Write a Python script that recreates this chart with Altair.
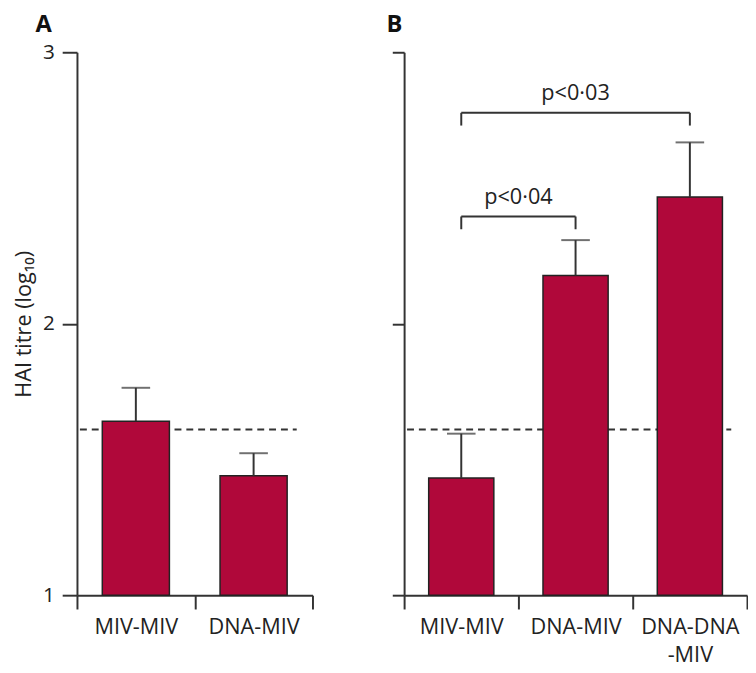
import altair as alt
import pandas as pd

# ---- data ----
a_groups = ["MIV-MIV", "DNA-MIV"]
a_means = [1.641, 1.44]
a_upper = [1.764, 1.523]

b_groups = ["MIV-MIV", "DNA-MIV", "DNA-DNA-MIV"]
b_means = [1.432, 2.178, 2.467]
b_upper = [1.595, 2.308, 2.668]

threshold = [1.61]

cmp_left = ["MIV-MIV", "MIV-MIV"]
cmp_right = ["DNA-MIV", "DNA-DNA-MIV"]
cmp_level = [2.395, 2.777]
cmp_low = [2.348, 2.730]
cmp_text = ["p<0·04", "p<0·03"]

y_ticks = [1, 2, 3]

# ---- styling ----
FONT = "Open Sans"
BAR = "#B0083A"
INK = "#333333"

a_df = pd.DataFrame({"group": a_groups, "mean": a_means, "upper": a_upper})
b_df = pd.DataFrame({"group": b_groups, "mean": b_means, "upper": b_upper})
thr_df = pd.DataFrame({"thr": threshold})
cmp_df = pd.DataFrame({"left": cmp_left, "right": cmp_right, "level": cmp_level,
                       "low": cmp_low, "text": cmp_text})
ends_df = pd.concat([
    pd.DataFrame({"cat": cmp_left, "level": cmp_level, "low": cmp_low}),
    pd.DataFrame({"cat": cmp_right, "level": cmp_level, "low": cmp_low}),
])


def panel(df, groups, width, height, title, first):
    xscale = alt.Scale(domain=groups, padding=0)
    yscale = alt.Scale(domain=[1, 3], zero=False, nice=False)
    xaxis = alt.Axis(title=None, labelAngle=0, tickSize=14, tickBand="extent",
                     labelPadding=8, labelFontSize=22, labelLineHeight=28,
                     labelExpr="datum.value == 'DNA-DNA-MIV' ? ['DNA-DNA', '-MIV'] : datum.value")
    if first:
        yaxis = alt.Axis(values=y_ticks, labelExpr="format(datum.value, 'd')",
                         title="HAI titre (log₁₀)", tickSize=15, labelOverlap=False,
                         labelPadding=8, labelFontSize=21, titleFontSize=22,
                         titleFontWeight="normal", titlePadding=7, grid=False)
    else:
        yaxis = alt.Axis(values=y_ticks, title=None, labels=False, tickSize=12, grid=False)

    def X(field, **kw):
        return alt.X(field, scale=xscale, axis=xaxis, **kw)

    def Y(field):
        return alt.Y(field, scale=yscale, axis=yaxis)

    base = alt.Chart(df)
    bars = base.mark_bar(color=BAR, stroke="#222222", strokeWidth=1.5,
                         width=alt.RelativeBandSize(0.57)).encode(
        x=X("group:N"), y=Y("mean:Q"), y2=alt.datum(1))
    thr = alt.Chart(thr_df).mark_rule(color=INK, strokeWidth=2, strokeDash=[7, 5]).encode(
        y=Y("thr:Q"), x=alt.value(3), x2=alt.value(width - 16))
    err = base.mark_rule(color=INK, strokeWidth=2).encode(
        x=X("group:N"), y=Y("mean:Q"), y2="upper:Q")
    cap = base.mark_tick(color=INK, size=29, thickness=2).encode(
        x=X("group:N"), y=Y("upper:Q"))
    layers = [thr, bars, err, cap]
    if not first:
        hl = alt.Chart(cmp_df).mark_rule(color=INK, strokeWidth=2).encode(
            x=X("left:N"), x2="right:N", y=Y("level:Q"))
        vl = alt.Chart(ends_df).mark_rule(color=INK, strokeWidth=2).encode(
            x=X("cat:N"), y=Y("level:Q"), y2="low:Q")
        t1 = alt.Chart(cmp_df.iloc[[0]]).mark_text(font=FONT, fontSize=22, color="#222222",
                                                  dy=-13, baseline="alphabetic").encode(
            x=X("left:N", bandPosition=1), y=Y("level:Q"), text="text:N")
        t2 = alt.Chart(cmp_df.iloc[[1]]).mark_text(font=FONT, fontSize=22, color="#222222",
                                                  dy=-13, baseline="alphabetic").encode(
            x=alt.datum("DNA-MIV", scale=xscale, axis=xaxis), y=Y("level:Q"), text="text:N")
        layers += [hl, vl, t1, t2]
    return alt.layer(*layers).properties(
        width=width, height=height,
        title=alt.TitleParams(title, anchor="start", frame="group", dx=-42 if first else -18,
                              offset=5 if first else 15,
                              fontSize=24, fontWeight="bold", font=FONT, color="#111111"))


chart_a = panel(a_df, a_groups, 239, 551, "A", True)
chart_b = panel(b_df, b_groups, 348, 551, "B", False)

chart = alt.hconcat(chart_a, chart_b, spacing=74).properties(
    padding={"left": 4, "top": 0, "right": 0, "bottom": 0}
).configure_view(stroke=None).configure_axis(
    domainColor=INK, domainWidth=2, tickColor=INK, tickWidth=2,
    labelColor="#222222", titleColor="#222222", labelFont=FONT, titleFont=FONT
)

chart.save("out.html", embed_options={"renderer": "svg", "actions": False})
